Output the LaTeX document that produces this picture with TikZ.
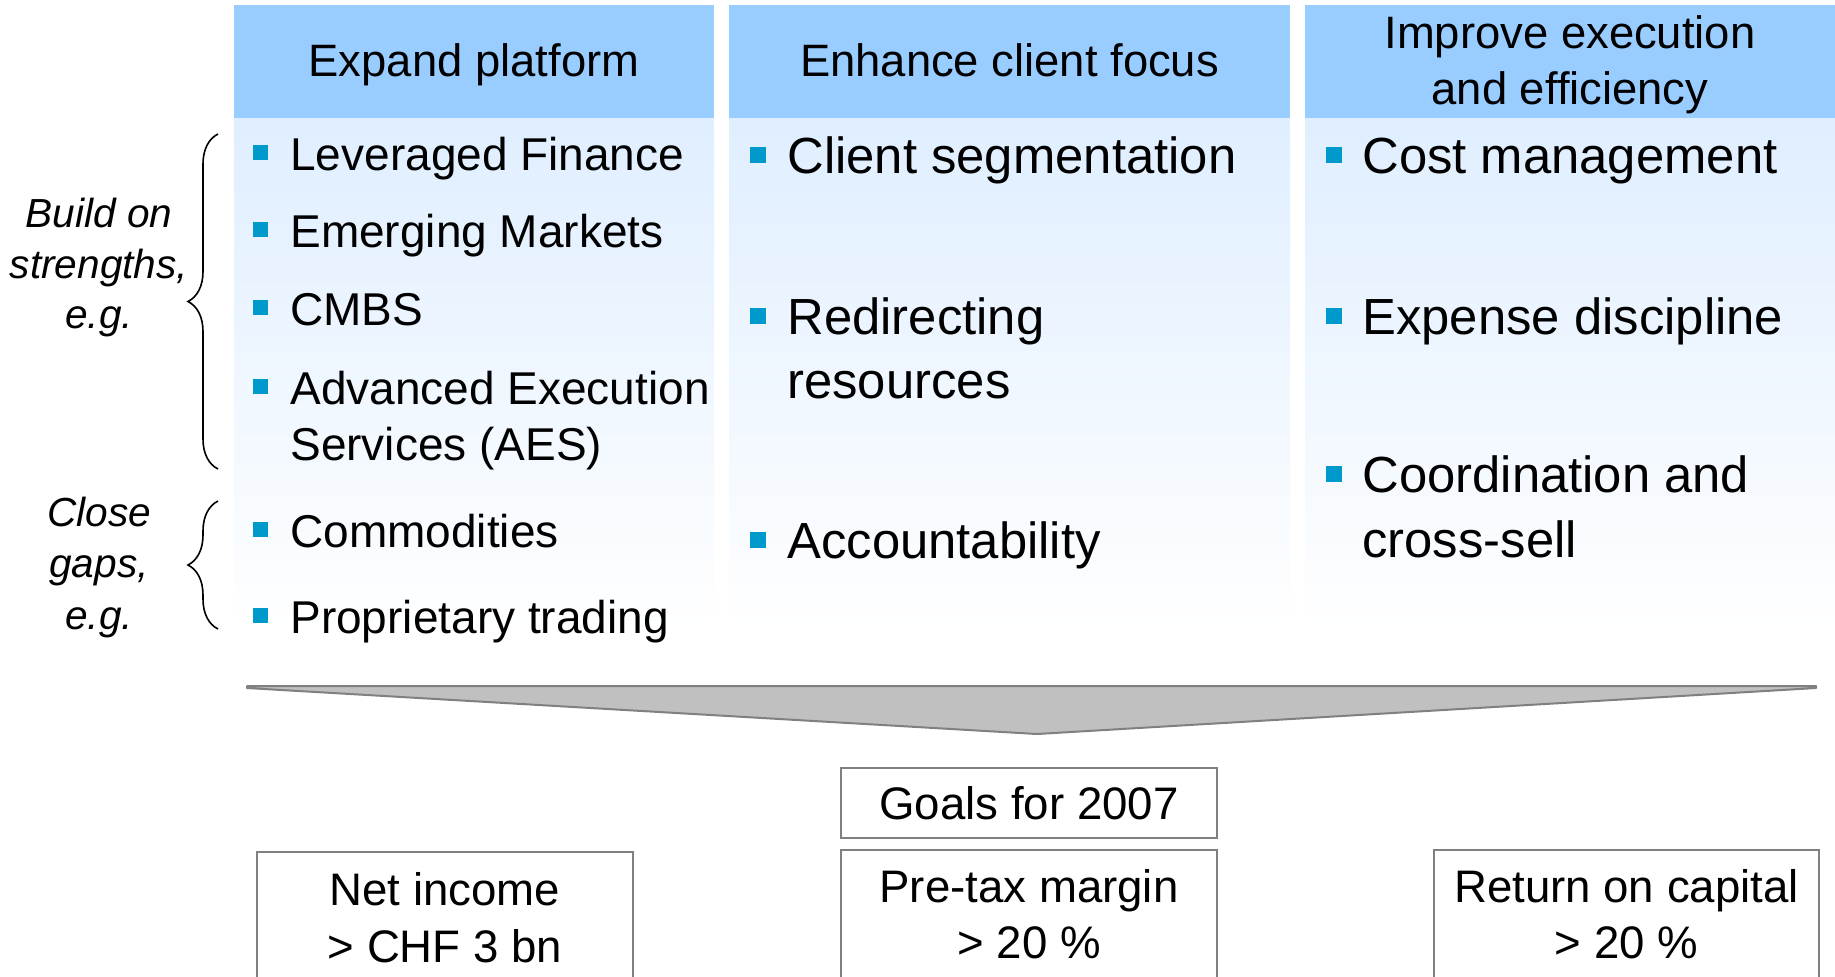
\documentclass[tikz,border=0pt]{standalone}
\usepackage{fontspec}
\setmainfont{Liberation Sans}
\usetikzlibrary{decorations.pathreplacing}
\definecolor{hdr}{HTML}{99CCFF}
\definecolor{bodytop}{HTML}{DFEEFF}
\definecolor{bul}{HTML}{0099CC}
\definecolor{chev}{HTML}{C0C0C0}
\definecolor{edgegray}{HTML}{808080}
\begin{document}
\begin{tikzpicture}[x=0.5pt,y=-0.5pt,
  hdrtext/.style={font=\fontsize{22.7}{28}\selectfont, inner sep=0, anchor=base},
  itemA/.style={font=\fontsize{23}{28}\selectfont, inner sep=0, anchor=base west},
  itemB/.style={font=\fontsize{25.4}{30}\selectfont, inner sep=0, anchor=base west},
  sidelab/.style={font=\fontsize{20.3}{25}\selectfont\itshape, inner sep=0, anchor=base},
  bsqA/.style={fill=bul, inner sep=0, minimum size=7.5pt},
  bsqB/.style={fill=bul, inner sep=0, minimum size=8pt},
  goalbox/.style={draw=edgegray, line width=1pt, fill=white, inner sep=0},
  goaltext/.style={font=\fontsize{22.8}{28}\selectfont, inner sep=0, anchor=base},
  bracestyle/.style={decorate, decoration={brace, amplitude=15pt}, line width=0.8pt}
]
\useasboundingbox (0,0) rectangle (1835,976);
\clip (0,0) rectangle (1835,976);

% column bodies
\shade[top color=bodytop, bottom color=white] (234,117) rectangle (714,632);
\shade[top color=bodytop, bottom color=white] (729,117) rectangle (1290,632);
\shade[top color=bodytop, bottom color=white] (1305,117) rectangle (1835,632);
% column headers
\fill[hdr] (234,5) rectangle (714,117.7);
\fill[hdr] (729,5) rectangle (1290,117.7);
\fill[hdr] (1305,5) rectangle (1835,117.7);

\node[hdrtext] (h1) at (474,76) {Expand platform};
\node[hdrtext] (h2) at (1009.5,76) {Enhance client focus};
\node[hdrtext] (h3a) at (1570,48) {Improve execution};
\node[hdrtext] (h3b) at (1570,104) {and efficiency};

% column 1
\node[bsqA] (b11) at (260.5,152.5) {};
\node[itemA] (t11) at (290,170.5) {Leveraged Finance};
\node[bsqA] (b12) at (260.5,229.5) {};
\node[itemA] (t12) at (290,247.5) {Emerging Markets};
\node[bsqA] (b13) at (260.5,307) {};
\node[itemA] (t13) at (290,325) {CMBS};
\node[bsqA] (b14) at (260.5,386) {};
\node[itemA] (t14a) at (290,404) {Advanced Execution};
\node[itemA] (t14b) at (290,460) {Services (AES)};
\node[bsqA] (b15) at (260.5,529) {};
\node[itemA] (t15) at (290,547) {Commodities};
\node[bsqA] (b16) at (260.5,615) {};
\node[itemA] (t16) at (290,633) {Proprietary trading};

% column 2
\node[bsqB] (b21) at (758,154.5) {};
\node[itemB] (t21) at (787,173) {Client segmentation};
\node[bsqB] (b22) at (758,315.5) {};
\node[itemB] (t22a) at (787,334) {Redirecting};
\node[itemB] (t22b) at (787,398) {resources};
\node[bsqB] (b23) at (758,539.5) {};
\node[itemB] (t23) at (787,558) {Accountability};

% column 3
\node[bsqB] (b31) at (1334,154.5) {};
\node[itemB] (t31) at (1362,173) {Cost management};
\node[bsqB] (b32) at (1334,315.5) {};
\node[itemB] (t32) at (1362,334) {Expense discipline};
\node[bsqB] (b33) at (1334,474) {};
\node[itemB] (t33a) at (1362,492) {Coordination and};
\node[itemB] (t33b) at (1362,557) {cross-sell};

% side labels and braces
\node[sidelab] (s1a) at (99,227) {Build on};
\node[sidelab] (s1b) at (99,278) {strengths,};
\node[sidelab] (s1c) at (99,328) {e.g.};
\node[sidelab] (s2a) at (99,526) {Close};
\node[sidelab] (s2b) at (99,577) {gaps,};
\node[sidelab] (s2c) at (99,629) {e.g.};
\coordinate (br1b) at (218,469);
\coordinate (br1t) at (218,134);
\coordinate (br2b) at (218,629);
\coordinate (br2t) at (218,501);
\draw[bracestyle] (br1b) -- (br1t);
\draw[bracestyle] (br2b) -- (br2t);

% chevron
\filldraw[fill=chev, draw=edgegray, line width=1pt, line join=round]
  (247,686) -- (1816,686) -- (1816,688) -- (1037,734) -- (247,688) -- cycle;

% goals
\node[goalbox, minimum width=188pt, minimum height=35pt] (goals) at (1029,802.5) {};
\node[goaltext] (goalst) at (1029,819) {Goals for 2007};

\node[goalbox, minimum width=188pt, minimum height=80pt] (net) at (445,932) {};
\node[goalbox, minimum width=188pt, minimum height=80pt] (ptm) at (1029,930) {};
\node[goalbox, minimum width=192.5pt, minimum height=80pt] (roc) at (1626.5,930) {};

\node[goaltext] (neta) at (445,905) {Net income};
\node[goaltext] (netb) at (445,962) {> CHF 3 bn};
\node[goaltext] (ptma) at (1029,902) {Pre-tax margin};
\node[goaltext] (ptmb) at (1029,958) {> 20 \%};
\node[goaltext] (roca) at (1626.5,902) {Return on capital};
\node[goaltext] (rocb) at (1626.5,958) {> 20 \%};
\end{tikzpicture}
\end{document}
